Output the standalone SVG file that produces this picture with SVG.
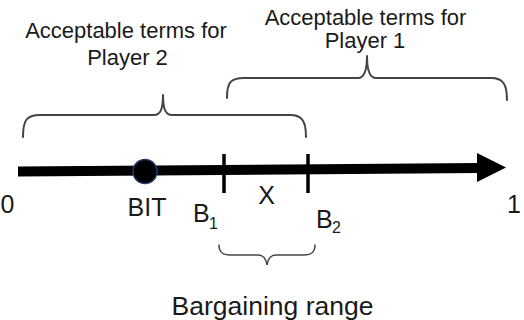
<svg xmlns="http://www.w3.org/2000/svg" width="524" height="320" viewBox="0 0 524 320">
<style>
text{font-family:"Liberation Sans",Arial,sans-serif;fill:#1a1a1a}
.top{font-size:22px;text-anchor:middle}
.lbl{font-size:25px}
.sub{font-size:16px}
.brace{fill:none;stroke:#444;stroke-width:2;stroke-linecap:round;stroke-linejoin:round}
.brace-thin{fill:none;stroke:#444;stroke-width:1.5;stroke-linecap:round}
.tick{stroke:#000;stroke-width:3.5}
</style>
<rect width="524" height="320" fill="#fff"/>
<g id="connectors">
  <line x1="18" y1="171.5" x2="480" y2="168" stroke="#000" stroke-width="10"/>
  <polygon points="477,153 506,167.5 477,182" fill="#000"/>
  <line class="tick" x1="224" y1="154" x2="224" y2="193"/>
  <line class="tick" x1="308" y1="154" x2="308" y2="193"/>
</g>
<g id="brace-player2">
  <path class="brace" d="M23,137 C23,121 26,115 40,115 L154,115 C160,115 163,110 163,95 C163,110 166,115 172,115 L290,115 C302,115 306,121 306,137"/>
  <text class="top" x="126" y="38">Acceptable terms for</text>
  <text class="top" x="127.5" y="65">Player 2</text>
</g>
<g id="brace-player1">
  <path class="brace" d="M227,98 C227,83 230,78 244,78 L358,78 C364,78 367,72 367,56 C367,72 370,78 376,78 L491,78 C503,78 507,84 507,100"/>
  <text class="top" x="365.5" y="25">Acceptable terms for</text>
  <text class="top" x="365" y="48">Player 1</text>
</g>
<g id="bargaining-range">
  <path class="brace-thin" d="M219,245 C219,252 222,255 230,255 L258,255 C263,255 266,258 267,265 C268,258 271,255 276,255 L304,255 C312,255 315,252 315,245"/>
  <text x="272.5" y="315" style="font-size:26.5px;text-anchor:middle">Bargaining range</text>
</g>
<g id="bit">
  <circle cx="145" cy="171.5" r="12" fill="#000" stroke="#1f3a6b" stroke-width="1.5"/>
  <text class="lbl" x="147" y="216" text-anchor="middle">BIT</text>
</g>
<g id="zero"><text class="lbl" x="7.5" y="213" text-anchor="middle">0</text></g>
<g id="one"><text class="lbl" x="514" y="213" text-anchor="middle">1</text></g>
<g id="b1"><text class="lbl" x="193" y="222">B</text><text class="sub" x="209" y="229">1</text></g>
<g id="x"><text class="lbl" x="266.5" y="204" text-anchor="middle">X</text></g>
<g id="b2"><text class="lbl" x="316" y="228">B</text><text class="sub" x="332" y="233">2</text></g>
</svg>
